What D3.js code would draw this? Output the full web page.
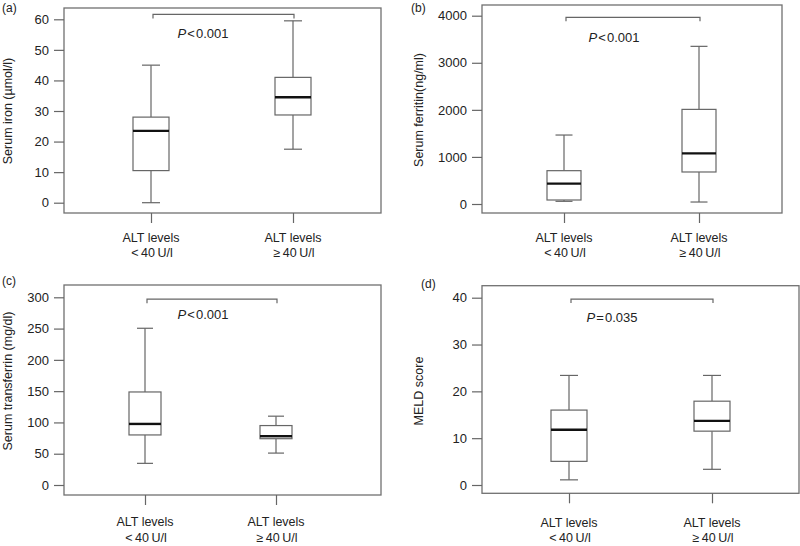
<!DOCTYPE html>
<html><head><meta charset="utf-8">
<script src="https://cdn.jsdelivr.net/npm/d3@7"></script>
<style>body{margin:0;background:#fff}svg{display:block}text{font-family:"Liberation Sans",Arial,sans-serif;fill:#222}</style>
</head><body><svg id="c" width="800" height="546"></svg>
<script>
const groups = ["ALT levels|<\u200940\u2009U/l", "ALT levels|\u2265\u200940\u2009U/l"];
// five-number summaries [min, q1, median, q3, max]
const ironStats = [[0, 10.5, 23.5, 28, 45], [17.5, 28.7, 34.5, 41, 59.5]];
const ferritinStats = [[57, 85, 432, 708, 1465], [42, 680, 1076, 2010, 3349]];
const transferrinStats = [[34.6, 80, 97.6, 148.7, 250.5], [51, 74, 78, 95, 110]];
const meldStats = [[1.1, 5.05, 11.8, 16.0, 23.4], [3.35, 11.5, 13.7, 17.9, 23.4]];
const ironTicks = [0, 10, 20, 30, 40, 50, 60];
const ferritinTicks = [0, 1000, 2000, 3000, 4000];
const transferrinTicks = [0, 50, 100, 150, 200, 250, 300];
const meldTicks = [0, 10, 20, 30, 40];
const panelLabels = ["(a)", "(b)", "(c)", "(d)"];
const yTitles = ["Serum iron (\u00b5mol/l)", "Serum ferritin(ng/ml)", "Serum transferrin (mg/dl)", "MELD score"];
const pOps = ["<", "<", "<", "="];
const pVals = ["0.001", "0.001", "0.001", "0.035"];
const bracketVals = [61.6, 3965, 297, 39.7];

const panels = [
  {stats: ironStats, ticks: ironTicks, fx: [64, 381], fy: [8, 213], yr: [202.7, 19.3], xr: [151, 293], bw: 18, lab: [2, 12], yt: [12, 111], xl: [242, 257], p: [203, 38]},
  {stats: ferritinStats, ticks: ferritinTicks, fx: [482, 782], fy: [5, 213], yr: [204, 15.7], xr: [564, 699], bw: 17, lab: [411, 12], yt: [423, 110], xl: [242, 257], p: [614, 42]},
  {stats: transferrinStats, ticks: transferrinTicks, fx: [64, 381], fy: [285, 495], yr: [485, 297.3], xr: [145, 276], bw: 16, lab: [2, 285], yt: [12, 381], xl: [526, 542], p: [203, 319]},
  {stats: meldStats, ticks: meldTicks, fx: [482, 799], fy: [285.7, 493.3], yr: [485, 297.7], xr: [569, 712], bw: 18, lab: [421, 288], yt: [423, 391], xl: [527, 542], p: [612, 322]}
];

const svg = d3.select("#c");
const lineCol = "#666";

panels.forEach((P, i) => {
  const g = svg.append("g");
  const ticks = P.ticks;
  const y = d3.scaleLinear().domain([0, ticks[ticks.length - 1]]).range(P.yr);
  const x = d3.scaleLinear().domain([1, 2]).range(P.xr);

  // frame
  g.append("rect").attr("x", P.fx[0]).attr("y", P.fy[0])
    .attr("width", P.fx[1] - P.fx[0]).attr("height", P.fy[1] - P.fy[0])
    .attr("fill", "none").attr("stroke", "#707070").attr("stroke-width", 1.3);

  // y axis
  const ya = g.append("g").attr("transform", `translate(${P.fx[0]},0)`)
    .call(d3.axisLeft(y).tickValues(ticks).tickSize(10).tickPadding(5).tickFormat(d3.format("d")));
  ya.select(".domain").remove();
  ya.selectAll("line").attr("stroke", lineCol).attr("stroke-width", 1.2);
  ya.selectAll("text").attr("font-size", 13).attr("fill", "#222").style("font-family", '"Liberation Sans",Arial,sans-serif');

  // x axis
  const xa = g.append("g").attr("transform", `translate(0,${P.fy[1]})`)
    .call(d3.axisBottom(x).tickValues([1, 2]).tickSize(10).tickFormat(""));
  xa.select(".domain").remove();
  xa.selectAll("line").attr("stroke", lineCol).attr("stroke-width", 1.2);

  groups.forEach((lbl, j) => {
    const parts = lbl.split("|");
    const t = g.append("text").attr("text-anchor", "middle").attr("font-size", 12.5);
    t.append("tspan").attr("x", x(j + 1)).attr("y", P.xl[0]).text(parts[0]);
    t.append("tspan").attr("x", x(j + 1) + 1).attr("y", P.xl[1]).text(parts[1]);
  });

  // boxes
  P.stats.forEach((s, j) => {
    const cx = x(j + 1), hw = P.bw, cw = P.bw / 2;
    const bg = g.append("g").attr("stroke", lineCol).attr("stroke-width", 1.2).attr("fill", "none");
    bg.append("line").attr("x1", cx).attr("x2", cx).attr("y1", y(s[0])).attr("y2", y(s[1]));
    bg.append("line").attr("x1", cx).attr("x2", cx).attr("y1", y(s[3])).attr("y2", y(s[4]));
    bg.append("line").attr("x1", cx - cw).attr("x2", cx + cw).attr("y1", y(s[0])).attr("y2", y(s[0]));
    bg.append("line").attr("x1", cx - cw).attr("x2", cx + cw).attr("y1", y(s[4])).attr("y2", y(s[4]));
    bg.append("rect").attr("x", cx - hw).attr("width", 2 * hw)
      .attr("y", y(s[3])).attr("height", y(s[1]) - y(s[3])).attr("fill", "#fff");
    g.append("line").attr("x1", cx - hw).attr("x2", cx + hw).attr("y1", y(s[2])).attr("y2", y(s[2]))
      .attr("stroke", "#111").attr("stroke-width", 2.4);
  });

  // bracket
  const by = y(bracketVals[i]);
  const bx1 = x(1) + 2, bx2 = x(2) + 1;
  g.append("path").attr("d", `M${bx1},${by + 4}V${by}H${bx2}V${by + 4}`)
    .attr("fill", "none").attr("stroke", lineCol).attr("stroke-width", 1.2);
  const pt = g.append("text").attr("x", P.p[0]).attr("y", P.p[1]).attr("text-anchor", "middle").attr("font-size", 13);
  pt.append("tspan").attr("font-style", "italic").text("P");
  pt.append("tspan").text("\u200a" + pOps[i] + "\u200a" + pVals[i]);

  // y title
  g.append("text").attr("transform", `translate(${P.yt[0]},${P.yt[1]}) rotate(-90)`)
    .attr("text-anchor", "middle").attr("font-size", 12.5).text(yTitles[i]);

  // panel label
  g.append("text").attr("x", P.lab[0]).attr("y", P.lab[1]).attr("font-size", 12).text(panelLabels[i]);
});
</script></body></html>
